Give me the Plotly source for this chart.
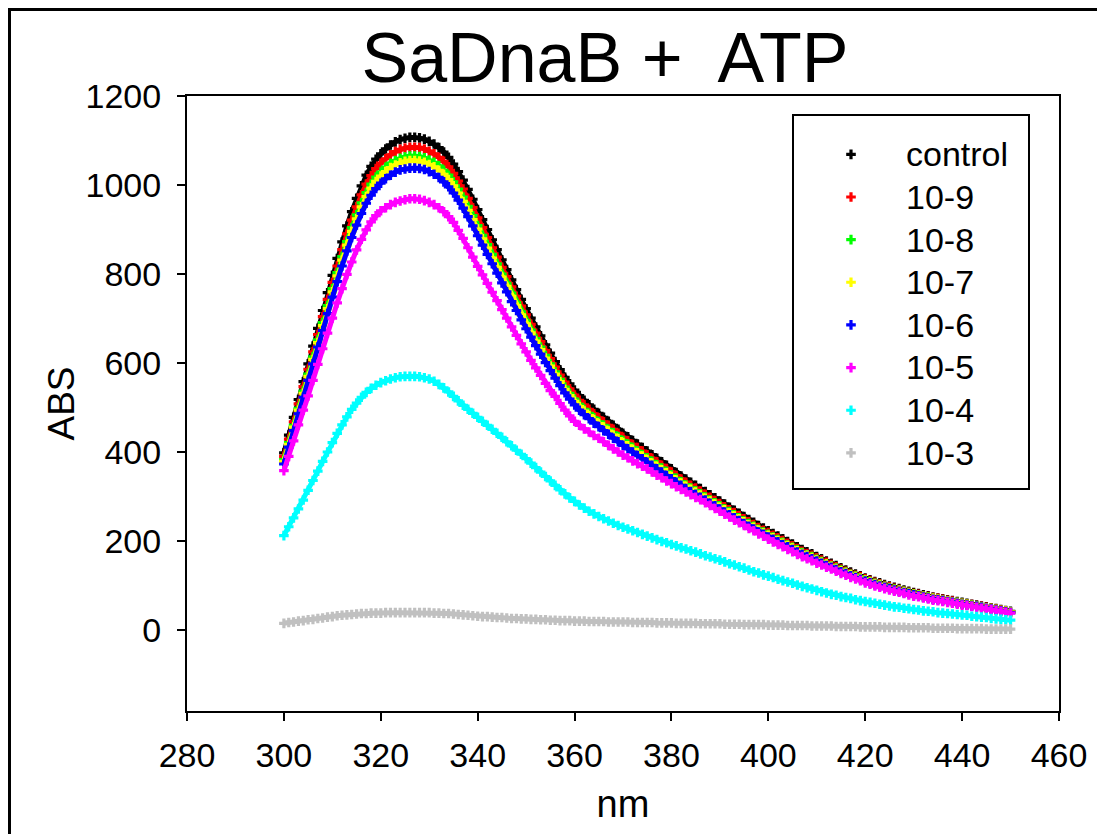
import plotly.graph_objects as go

wavelength_nm = list(range(300, 451))

control = [398, 438, 478, 518, 558, 598, 638, 678, 718, 758,
           797, 835, 872, 908, 940, 970, 998, 1022, 1042, 1058,
           1070, 1081, 1090, 1097, 1102, 1105, 1107, 1107, 1106, 1103,
           1098, 1092, 1084, 1074, 1062, 1047, 1030, 1011, 990, 968,
           945, 922, 900, 877, 855, 832, 810, 787, 765, 743,
           722, 701, 681, 661, 641, 622, 603, 585, 568, 553,
           539, 527, 516, 506, 496, 487, 478, 469, 460, 451,
           442, 434, 426, 418, 410, 402, 394, 386, 378, 370,
           362, 354, 346, 339, 332, 325, 318, 311, 304, 297,
           290, 283, 276, 269, 262, 255, 248, 242, 235, 229,
           223, 217, 211, 205, 199, 193, 187, 181, 176, 171,
           165, 160, 155, 150, 145, 140, 135, 130, 126, 122,
           117, 113, 109, 106, 102, 99, 96, 93, 90, 87,
           84, 82, 79, 77, 74, 72, 70, 68, 66, 64,
           62, 60, 58, 56, 54, 52, 50, 48, 46, 44, 42]

c_1e9 = [390, 429, 468, 508, 547, 586, 625, 664, 704, 743,
         781, 818, 855, 890, 921, 951, 978, 1002, 1021, 1037,
         1049, 1059, 1068, 1075, 1080, 1083, 1085, 1085, 1084, 1081,
         1076, 1070, 1062, 1053, 1041, 1026, 1009, 991, 970, 949,
         926, 904, 882, 859, 838, 815, 794, 771, 750, 728,
         708, 687, 667, 648, 628, 610, 591, 573, 557, 542,
         528, 516, 506, 496, 486, 477, 468, 460, 451, 442,
         433, 425, 417, 410, 402, 394, 386, 378, 370, 363,
         355, 347, 339, 332, 325, 319, 312, 305, 298, 291,
         284, 277, 270, 264, 257, 250, 243, 237, 230, 224,
         219, 213, 207, 201, 195, 189, 183, 177, 172, 168,
         162, 157, 152, 147, 142, 137, 132, 127, 123, 120,
         115, 111, 107, 104, 100, 97, 94, 91, 88, 85,
         82, 80, 77, 75, 73, 71, 69, 67, 65, 63,
         61, 59, 57, 55, 53, 51, 49, 47, 45, 43, 41]

c_1e8 = [383, 421, 460, 498, 537, 575, 614, 652, 691, 729,
         767, 803, 839, 873, 904, 933, 960, 983, 1002, 1018,
         1029, 1040, 1049, 1055, 1060, 1063, 1065, 1065, 1064, 1061,
         1056, 1051, 1043, 1033, 1022, 1007, 991, 973, 952, 931,
         909, 887, 866, 844, 823, 800, 779, 757, 736, 715,
         695, 674, 655, 636, 617, 598, 580, 563, 546, 532,
         519, 507, 496, 487, 477, 468, 460, 451, 443, 434,
         425, 418, 410, 402, 394, 387, 379, 371, 364, 356,
         348, 341, 333, 326, 319, 313, 306, 299, 292, 286,
         279, 272, 266, 259, 252, 245, 239, 233, 226, 220,
         215, 209, 203, 197, 191, 186, 180, 174, 169, 165,
         159, 154, 149, 144, 139, 135, 130, 125, 121, 117,
         113, 109, 105, 102, 98, 95, 92, 89, 87, 84,
         81, 79, 76, 74, 71, 69, 67, 65, 63, 62,
         60, 58, 56, 54, 52, 50, 48, 46, 44, 42, 40]

c_1e7 = [379, 417, 456, 494, 532, 570, 608, 646, 684, 722,
         760, 796, 831, 865, 896, 924, 951, 974, 993, 1008,
         1020, 1030, 1039, 1045, 1050, 1053, 1055, 1055, 1054, 1051,
         1046, 1041, 1033, 1024, 1012, 998, 982, 963, 943, 922,
         901, 879, 858, 836, 815, 793, 772, 750, 729, 708,
         688, 668, 649, 630, 611, 593, 575, 558, 541, 527,
         514, 502, 492, 482, 473, 464, 456, 447, 438, 430,
         421, 414, 406, 398, 391, 383, 375, 368, 360, 353,
         345, 337, 330, 323, 316, 310, 303, 296, 290, 283,
         276, 270, 263, 256, 250, 243, 236, 231, 224, 218,
         213, 207, 201, 195, 190, 184, 178, 172, 168, 163,
         157, 152, 148, 143, 138, 133, 129, 124, 120, 116,
         112, 108, 104, 101, 97, 94, 91, 89, 86, 83,
         80, 78, 75, 73, 71, 69, 67, 65, 63, 61,
         59, 57, 55, 53, 51, 50, 48, 46, 44, 42, 40]

c_1e6 = [373, 411, 448, 486, 523, 561, 598, 636, 673, 711,
         748, 783, 818, 852, 882, 910, 936, 959, 977, 992,
         1004, 1014, 1022, 1029, 1034, 1036, 1038, 1038, 1037, 1035,
         1030, 1024, 1017, 1007, 996, 982, 966, 948, 929, 908,
         886, 865, 844, 823, 802, 780, 760, 738, 718, 697,
         677, 658, 639, 620, 601, 583, 566, 549, 533, 519,
         506, 494, 484, 475, 465, 457, 448, 440, 431, 423,
         415, 407, 400, 392, 385, 377, 370, 362, 355, 347,
         340, 332, 325, 318, 311, 305, 298, 292, 285, 279,
         272, 265, 259, 252, 246, 239, 233, 227, 220, 215,
         209, 204, 198, 192, 187, 181, 175, 170, 165, 160,
         155, 150, 145, 141, 136, 131, 127, 122, 118, 114,
         110, 106, 102, 99, 96, 93, 90, 87, 84, 82,
         79, 77, 74, 72, 69, 68, 66, 64, 62, 60,
         58, 56, 54, 53, 51, 49, 47, 45, 43, 41, 39]

c_1e5 = [358, 390, 425, 461, 494, 526, 561, 597, 632, 667,
         701, 735, 767, 799, 827, 854, 878, 899, 917, 931,
         942, 949, 956, 961, 964, 967, 969, 969, 968, 965,
         961, 956, 949, 940, 929, 916, 898, 880, 859, 838,
         817, 798, 779, 759, 740, 720, 701, 681, 662, 643,
         625, 606, 589, 572, 554, 538, 525, 509, 494, 481,
         469, 460, 452, 445, 437, 431, 423, 415, 407, 400,
         393, 387, 380, 374, 368, 362, 355, 348, 342, 335,
         329, 322, 316, 310, 304, 298, 293, 286, 280, 273,
         267, 260, 254, 247, 241, 235, 228, 223, 216, 211,
         204, 198, 192, 187, 181, 176, 170, 165, 160, 156,
         150, 146, 141, 137, 132, 127, 123, 118, 115, 111,
         106, 103, 99, 96, 93, 90, 87, 85, 82, 79,
         76, 75, 72, 70, 67, 66, 64, 62, 60, 58,
         56, 55, 53, 51, 49, 47, 46, 44, 42, 40, 38]

c_1e4 = [212, 232, 252, 272, 292, 314, 336, 357, 379, 400,
         421, 442, 461, 479, 496, 510, 523, 534, 543, 550,
         556, 560, 564, 567, 569, 570, 570, 570, 569, 567,
         564, 559, 552, 544, 535, 525, 515, 505, 496, 487,
         478, 469, 460, 451, 442, 433, 423, 414, 404, 395,
         385, 375, 365, 355, 345, 335, 325, 315, 306, 297,
         289, 281, 274, 267, 261, 255, 250, 245, 240, 235,
         231, 227, 223, 219, 215, 211, 207, 203, 199, 196,
         192, 189, 185, 182, 178, 175, 171, 167, 164, 160,
         157, 153, 149, 146, 142, 139, 135, 131, 128, 124,
         121, 118, 114, 111, 108, 105, 101, 98, 95, 92,
         89, 86, 83, 80, 78, 75, 73, 71, 68, 66,
         64, 62, 60, 58, 56, 54, 52, 51, 49, 48,
         46, 45, 43, 42, 41, 39, 38, 37, 36, 35,
         34, 33, 31, 30, 29, 28, 26, 25, 24, 23, 22]

c_1e3 = [15, 17, 18, 20, 21, 23, 24, 26, 27, 29,
         30, 32, 33, 34, 35, 36, 37, 37, 38, 38,
         38, 39, 39, 39, 39, 39, 39, 39, 39, 39,
         39, 38, 38, 37, 37, 36, 35, 34, 33, 32,
         31, 30, 30, 29, 28, 28, 27, 26, 26, 25,
         25, 24, 24, 23, 23, 22, 22, 21, 21, 21,
         20, 20, 20, 19, 19, 19, 19, 18, 18, 18,
         18, 18, 17, 17, 17, 17, 17, 16, 16, 16,
         16, 15, 15, 15, 15, 15, 14, 14, 14, 14,
         14, 13, 13, 13, 13, 12, 12, 12, 12, 12,
         11, 11, 11, 11, 10, 10, 10, 10, 10, 9,
         9, 9, 9, 9, 8, 8, 8, 8, 8, 7,
         7, 7, 7, 7, 6, 6, 6, 6, 6, 5,
         5, 5, 5, 5, 4, 4, 4, 4, 4, 3,
         3, 3, 3, 3, 3, 2, 2, 2, 2, 2, 2]

series_names = ["control", "10-9", "10-8", "10-7", "10-6", "10-5", "10-4", "10-3"]
series_values = [control, c_1e9, c_1e8, c_1e7, c_1e6, c_1e5, c_1e4, c_1e3]
series_colors = ["#000000", "#ff0000", "#00ff00", "#ffff00",
                 "#0000ff", "#ff00ff", "#00ffff", "#c0c0c0"]

x_ticks = [280, 300, 320, 340, 360, 380, 400, 420, 440, 460]
y_ticks = [0, 200, 400, 600, 800, 1000, 1200]

FONT = "Arial, 'Liberation Sans', sans-serif"

# page body adds an 8px offset: figure is sized/margined to compensate
W, H = 1097, 826

fig = go.Figure()
for name, vals, col in zip(series_names, series_values, series_colors):
    fig.add_trace(go.Scatter(
        x=wavelength_nm, y=vals, mode="lines", line=dict(color=col, width=5),
        showlegend=False, legendgroup=name, hoverinfo="skip",
    ))
    fig.add_trace(go.Scatter(
        x=wavelength_nm, y=vals,
        name='<span style="font-size:34px">' + name + '</span>',
        mode="markers",
        marker=dict(symbol="cross", size=8, color=col, line=dict(width=0)),
        legendgroup=name,
    ))

fig.update_layout(
    width=W, height=H, autosize=False,
    margin=dict(l=179, r=46, t=88, b=123),
    paper_bgcolor="white", plot_bgcolor="white",
    font=dict(family=FONT, color="black"),
    title=dict(text="SaDnaB +\u00a0 ATP", x=597 / W, xanchor="center",
               y=1 - 49 / H, yanchor="middle", yref="container",
               font=dict(size=70, family=FONT, color="black")),
    showlegend=True,
    legend=dict(x=(796 - 187) / 872, xanchor="left", y=(711 - 128) / 615, yanchor="top",
                font=dict(size=30.5, family=FONT, color="black"),
                bgcolor="rgba(0,0,0,0)", borderwidth=0, itemwidth=100,
                tracegroupgap=0),
    xaxis=dict(range=[280, 460], tickvals=x_ticks, ticks="outside", ticklen=8,
               tickwidth=1.5, tickcolor="black", showline=True, linecolor="black",
               linewidth=2, mirror=True, showgrid=False, zeroline=False,
               tickfont=dict(size=34, family=FONT, color="black"),
               ticklabelstandoff=5,
               title=dict(text="nm", font=dict(size=38, family=FONT, color="black"),
                          standoff=18)),
    yaxis=dict(range=[-182, 1200], tickvals=y_ticks, ticks="outside", ticklen=8,
               tickwidth=1.5, tickcolor="black", showline=True, linecolor="black",
               linewidth=2, mirror=True, showgrid=False, zeroline=False,
               tickfont=dict(size=34, family=FONT, color="black"),
               ticklabelstandoff=9,
               title=dict(text="ABS", font=dict(size=37, family=FONT, color="black"),
                          standoff=0)),
)

# legend frame
fig.add_shape(type="rect", xref="paper", yref="paper",
              x0=(793 - 187) / 872, x1=(1029 - 187) / 872,
              y0=(711 - 489) / 615, y1=(711 - 115) / 615,
              line=dict(color="black", width=2), fillcolor="rgba(0,0,0,0)", layer="above")
# outer figure frame (cropped at right and bottom)
fig.add_shape(type="rect", xref="paper", yref="paper",
              x0=(9.5 - 187) / 872, x1=(1130 - 187) / 872,
              y0=(711 - 860) / 615, y1=(711 - 9.5) / 615,
              line=dict(color="black", width=3), fillcolor="rgba(0,0,0,0)", layer="above")

fig.write_html("out.html")
